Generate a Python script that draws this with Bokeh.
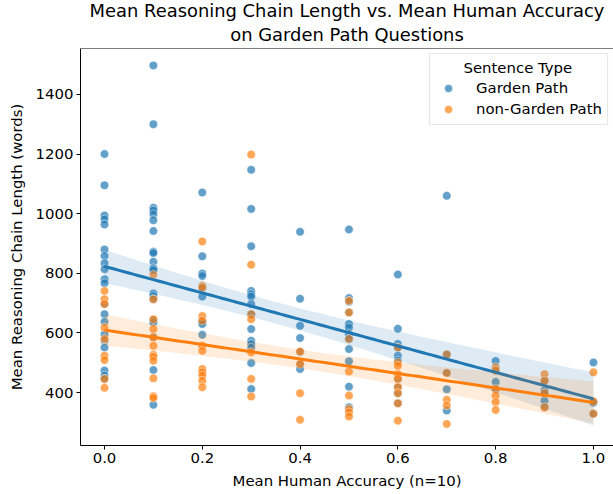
import numpy as np
from bokeh.plotting import figure
from bokeh.models import Range1d, Legend, LegendItem, FixedTicker, NumeralTickFormatter, Span, Title
from bokeh.embed import file_html
from bokeh.resources import INLINE

# ---- data ----
gp_acc = ([0.0] * 20 + [0.1] * 20 + [0.2] * 10 + [0.3] * 14 + [0.4] * 7 + [0.5] * 12
          + [0.6] * 10 + [0.7] * 5 + [0.8] * 4 + [0.9] * 5 + [1.0] * 4)
gp_len = [1200, 1095, 994, 981, 964, 880, 858, 834, 814, 780, 767, 697, 663, 638, 596, 574, 551, 474, 457, 446,
          1497, 1300, 1020, 1011, 998, 978, 942, 872, 868, 839, 817, 811, 732, 724, 713, 643, 635, 587, 476, 359,
          1071, 857, 799, 791, 752, 722, 641, 637, 630, 594,
          1147, 1016, 891, 741, 730, 722, 697, 663, 613, 574, 563, 551, 499, 412,
          939, 715, 624, 583, 536, 496, 479,
          947, 717, 705, 669, 630, 618, 596, 580, 546, 505, 420, 351,
          796, 614, 563, 551, 524, 507, 446, 418, 398, 364,
          1060, 528, 466, 411, 340,
          506, 474, 436, 412,
          440, 407, 398, 373, 351,
          501, 368, 366, 329]

ngp_acc = ([0.0] * 9 + [0.1] * 12 + [0.2] * 12 + [0.3] * 7 + [0.4] * 4 + [0.5] * 8
           + [0.6] * 9 + [0.7] * 5 + [0.8] * 6 + [0.9] * 4 + [1.0] * 3)
ngp_len = [741, 713, 697, 618, 580, 524, 509, 446, 416,
           795, 713, 646, 613, 585, 557, 527, 520, 507, 448, 388, 382,
           907, 758, 752, 657, 641, 557, 540, 479, 468, 457, 440, 418,
           1198, 829, 663, 646, 535, 446, 387,
           538, 496, 398, 309,
           708, 669, 580, 471, 390, 345, 334, 320,
           551, 501, 490, 462, 446, 418, 398, 364, 306,
           528, 466, 376, 357, 295,
           485, 474, 412, 390, 368, 342,
           462, 440, 398, 351,
           468, 370, 329]

series_names = ["Garden Path", "non-Garden Path"]
series_colors = ["#1f77b4", "#ff7f0e"]
x_ticks = [0.0, 0.2, 0.4, 0.6, 0.8, 1.0]
y_ticks = [400, 600, 800, 1000, 1200, 1400]
title_lines = ["Mean Reasoning Chain Length vs. Mean Human Accuracy", "on Garden Path Questions"]

FONT = "DejaVu Sans"
BASE = "14.9px"

p = figure(width=613, height=494, output_backend="svg", toolbar_location=None, title=None,
           x_range=Range1d(-0.0491, 1.041), y_range=Range1d(222.7, 1553.8),
           min_border_left=80, min_border_right=0, min_border_top=47, min_border_bottom=49)

# two centred title lines (inner-most added first)
for txt, so in ((title_lines[1], 6.5), (title_lines[0], -5.5)):
    t = Title(text=txt, align="center", text_font=FONT, text_font_size="17.9px",
              text_font_style="normal", text_color="black", standoff=so)
    p.add_layout(t, "above")

p.outline_line_color = None
p.xgrid.visible = False
p.ygrid.visible = False
p.background_fill_color = "white"
p.border_fill_color = "white"

for ax in (p.xaxis[0], p.yaxis[0]):
    ax.axis_line_color = "black"
    ax.axis_line_width = 1
    ax.major_tick_line_color = "black"
    ax.major_tick_out = 4
    ax.major_tick_in = 0
    ax.minor_tick_line_color = None
    ax.major_label_text_font = FONT
    ax.major_label_text_font_size = BASE
    ax.major_label_text_color = "black"
    ax.axis_label_text_font = FONT
    ax.axis_label_text_font_size = BASE
    ax.axis_label_text_font_style = "normal"
    ax.axis_label_text_color = "black"
    ax.major_label_standoff = 3

p.xaxis[0].ticker = FixedTicker(ticks=x_ticks)
p.xaxis[0].formatter = NumeralTickFormatter(format="0.0")
p.yaxis[0].ticker = FixedTicker(ticks=y_ticks)
p.xaxis[0].axis_label = "Mean Human Accuracy (n=10)"
p.yaxis[0].axis_label = "Mean Reasoning Chain Length (words)"
p.xaxis[0].axis_label_standoff = 6
p.yaxis[0].axis_label_standoff = 7

# top spine
p.add_layout(Span(location=1553.8, dimension="width", line_color="black", line_width=1))

# scatter
items = []
data = [(gp_acc, gp_len), (ngp_acc, ngp_len)]
for (xa, ya), name, col in zip(data, series_names, series_colors):
    r = p.scatter(xa, ya, size=8.5, fill_color=col, fill_alpha=0.7, line_color="white",
                  line_width=0.6, line_alpha=0.8)
    items.append(LegendItem(label=name, renderers=[r]))

# regression lines with 95% confidence band
xs = np.linspace(0.0, 1.0, 101)
for (xa, ya), col in zip(data, series_colors):
    x = np.asarray(xa, float)
    y = np.asarray(ya, float)
    n = len(x)
    b, a = np.polyfit(x, y, 1)
    yhat = a + b * xs
    resid = y - (a + b * x)
    s = np.sqrt(np.sum(resid ** 2) / (n - 2))
    sxx = np.sum((x - x.mean()) ** 2)
    se = s * np.sqrt(1.0 / n + (xs - x.mean()) ** 2 / sxx)
    tval = 1.99
    p.varea(x=xs, y1=yhat - tval * se, y2=yhat + tval * se, fill_color=col, fill_alpha=0.15)
    p.line(xs, yhat, line_color=col, line_width=3)

NB = "\u00a0"
legend = Legend(items=items, location="top_right", title=NB * 6 + "Sentence Type")
legend.title_text_font = FONT
legend.title_text_font_size = BASE
legend.title_text_font_style = "normal"
legend.title_text_color = "black"
legend.label_text_font = FONT
legend.label_text_font_size = BASE
legend.label_text_color = "black"
legend.border_line_color = "#d0d0d0"
legend.border_line_width = 1
legend.background_fill_alpha = 0.8
legend.margin = 5
legend.padding = 5
legend.spacing = 1
legend.label_standoff = 15
legend.glyph_width = 26
legend.glyph_height = 20
legend.title_standoff = 1
p.add_layout(legend)

open("out.html", "w").write(file_html(p, INLINE))
